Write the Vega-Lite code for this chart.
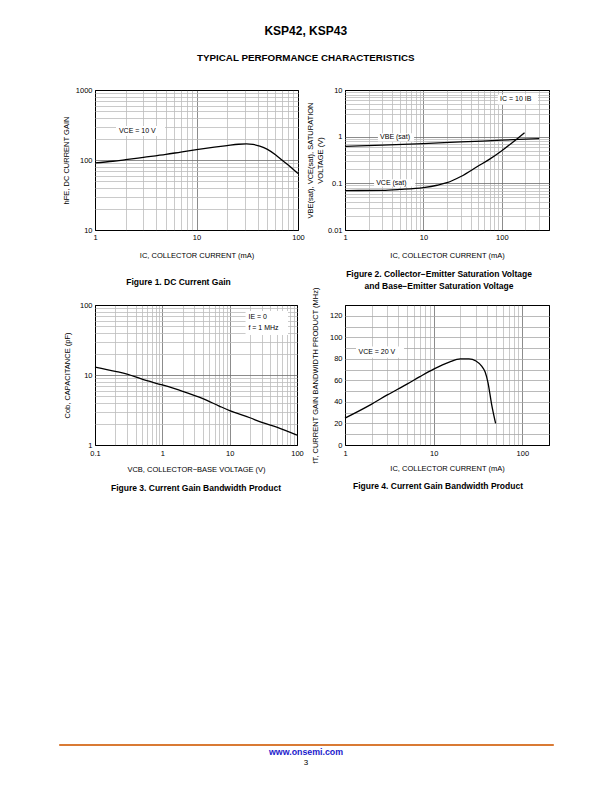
{
  "$schema": "https://vega.github.io/schema/vega-lite/v6.json",
  "background": "white",
  "padding": {"left": 58, "top": 24, "right": 5, "bottom": 5},
  "spacing": 250,
  "title": {
    "text": "KSP42, KSP43",
    "subtitle": "TYPICAL PERFORMANCE CHARACTERISTICS",
    "anchor": "middle",
    "frame": "bounds",
    "fontSize": 12,
    "fontWeight": "bold",
    "subtitleFontSize": 9.8,
    "subtitleFontWeight": "bold",
    "subtitleColor": "black",
    "subtitleFont": "Liberation Sans",
    "subtitlePadding": 15,
    "offset": 22
  },
  "datasets": {
    "hfe": [
      {"x": 1, "y": 91}, {"x": 1.5, "y": 96}, {"x": 2, "y": 101}, {"x": 3, "y": 109},
      {"x": 5, "y": 120}, {"x": 7, "y": 130}, {"x": 10, "y": 141}, {"x": 15, "y": 153},
      {"x": 20, "y": 161}, {"x": 26, "y": 168}, {"x": 31, "y": 170}, {"x": 36, "y": 167},
      {"x": 42, "y": 158}, {"x": 50, "y": 142}, {"x": 60, "y": 119}, {"x": 70, "y": 99},
      {"x": 85, "y": 79}, {"x": 100, "y": 64}
    ],
    "box1": [{"x": 1.61, "x2": 4.9, "y": 221, "y2": 306}],
    "lab1": [{"x": 1.72, "y": 258, "t": "VCE = 10 V"}],
    "sat": [
      {"s": "VBE", "x": 1, "y": 0.62}, {"s": "VBE", "x": 3, "y": 0.66}, {"s": "VBE", "x": 10, "y": 0.71},
      {"s": "VBE", "x": 30, "y": 0.77}, {"s": "VBE", "x": 100, "y": 0.84}, {"s": "VBE", "x": 300, "y": 0.91},
      {"s": "VCE", "x": 1, "y": 0.07}, {"s": "VCE", "x": 3, "y": 0.071}, {"s": "VCE", "x": 5, "y": 0.074},
      {"s": "VCE", "x": 10, "y": 0.081}, {"s": "VCE", "x": 15, "y": 0.091}, {"s": "VCE", "x": 20, "y": 0.103},
      {"s": "VCE", "x": 30, "y": 0.14}, {"s": "VCE", "x": 50, "y": 0.235}, {"s": "VCE", "x": 70, "y": 0.33},
      {"s": "VCE", "x": 100, "y": 0.5}, {"s": "VCE", "x": 150, "y": 0.85}, {"s": "VCE", "x": 195, "y": 1.22}
    ],
    "box2": [
      {"x": 2.63, "x2": 7.6, "y": 0.79, "y2": 1.18},
      {"x": 2.35, "x2": 7.9, "y": 0.086, "y2": 0.122},
      {"x": 89, "x2": 290, "y": 4.9, "y2": 8.05}
    ],
    "lab2": [
      {"x": 2.8, "y": 0.97, "t": "VBE (sat)"},
      {"x": 2.5, "y": 0.102, "t": "VCE (sat)"},
      {"x": 95, "y": 6.3, "t": "IC = 10 IB"}
    ],
    "cob": [
      {"x": 0.1, "y": 13}, {"x": 0.2, "y": 11.3}, {"x": 0.3, "y": 10.3}, {"x": 0.5, "y": 8.7},
      {"x": 1, "y": 7.2}, {"x": 2, "y": 5.85}, {"x": 4, "y": 4.6}, {"x": 7, "y": 3.6},
      {"x": 10, "y": 3.1}, {"x": 20, "y": 2.45}, {"x": 30, "y": 2.1}, {"x": 50, "y": 1.8},
      {"x": 100, "y": 1.38}
    ],
    "box3": [{"x": 17.2, "x2": 73.5, "y": 37.4, "y2": 82}],
    "lab3": [{"x": 19, "y": 67, "t": "IE = 0"}, {"x": 19, "y": 47, "t": "f = 1 MHz"}],
    "ft": [
      {"x": 1, "y": 25}, {"x": 2, "y": 38}, {"x": 3, "y": 46.5}, {"x": 5, "y": 56.5},
      {"x": 7, "y": 63.5}, {"x": 10, "y": 70.5}, {"x": 15, "y": 77}, {"x": 20, "y": 80},
      {"x": 25, "y": 80}, {"x": 30, "y": 78}, {"x": 35, "y": 73}, {"x": 38, "y": 68},
      {"x": 41, "y": 58}, {"x": 45, "y": 38}, {"x": 50, "y": 20}
    ],
    "box4": [{"x": 1.33, "x2": 4.64, "y": 81, "y2": 91.5}],
    "lab4": [{"x": 1.42, "y": 86, "t": "VCE = 20 V"}]
  },
  "vconcat": [
    {
      "bounds": "flush",
      "spacing": 0,
      "hconcat": [
        {"width": 36, "height": 1, "data": {"values": [{"a": 1}]}, "mark": {"type": "rule", "opacity": 0}, "encoding": {}, "view": {"stroke": null}},
        {
          "columns": 2,
          "bounds": "flush",
          "spacing": {"row": 75, "column": 47},
          "concat": [
            {
              "width": 203, "height": 140,
              "title": {"text": "Figure 1. DC Current Gain", "orient": "bottom", "anchor": "middle", "frame": "group", "dx": -18, "offset": 19},
              "encoding": {
                "x": {"field": "x", "type": "quantitative", "scale": {"type": "log", "domain": [1, 100], "nice": false},
                  "axis": {"title": "IC, COLLECTOR CURRENT (mA)", "values": [1,2,3,4,5,6,7,8,9,10,20,30,40,50,60,70,80,90,100], "format": "~g",
                    "labelExpr": "indexof([1,10,100], datum.value) >= 0 ? datum.label : ''",
                    "gridColor": {"condition": [{"test": "datum.value == 1 || datum.value == 100", "value": "black"}, {"test": "datum.value == 10", "value": "#6e6e6e"}], "value": "#bdbdbd"},
                    "labelPadding": 3, "titlePadding": 11}},
                "y": {"field": "y", "type": "quantitative", "scale": {"type": "log", "domain": [10, 1000], "nice": false},
                  "axis": {"title": "hFE, DC CURRENT GAIN", "values": [10,20,30,40,50,60,70,80,90,100,200,300,400,500,600,700,800,900,1000], "format": "~g",
                    "labelExpr": "indexof([10,100,1000], datum.value) >= 0 ? datum.label : ''",
                    "gridColor": {"condition": [{"test": "datum.value == 10 || datum.value == 1000", "value": "black"}, {"test": "datum.value == 100", "value": "#6e6e6e"}], "value": "#bdbdbd"},
                    "labelPadding": 3, "titlePadding": 5}}
              },
              "layer": [
                {"data": {"name": "box1"}, "mark": {"type": "rect", "fill": "white"}, "encoding": {"x2": {"field": "x2"}, "y2": {"field": "y2"}}},
                {"data": {"name": "hfe"}, "mark": {"type": "line", "color": "black", "strokeWidth": 1.3, "interpolate": "monotone"}},
                {"data": {"name": "lab1"}, "mark": {"type": "text", "align": "left", "baseline": "middle", "fontSize": 7}, "encoding": {"text": {"field": "t"}}}
              ]
            },
            {
              "width": 204, "height": 140,
              "title": {"text": ["Figure 2. Collector−Emitter Saturation Voltage", "and Base−Emitter Saturation Voltage"], "orient": "bottom", "anchor": "middle", "frame": "group", "dx": -8, "offset": 11, "lineHeight": 12},
              "encoding": {
                "x": {"field": "x", "type": "quantitative", "scale": {"type": "log", "domain": [1, 400], "nice": false},
                  "axis": {"title": "IC, COLLECTOR CURRENT (mA)", "values": [1,2,3,4,5,6,7,8,9,10,20,30,40,50,60,70,80,90,100,200,300,400], "format": "~g",
                    "labelExpr": "indexof([1,10,100], datum.value) >= 0 ? datum.label : ''",
                    "gridColor": {"condition": [{"test": "datum.value == 1 || datum.value == 400", "value": "black"}, {"test": "datum.value == 10 || datum.value == 100", "value": "#6e6e6e"}], "value": "#bdbdbd"},
                    "labelPadding": 3, "titlePadding": 11}},
                "y": {"field": "y", "type": "quantitative", "scale": {"type": "log", "domain": [0.01, 10], "nice": false},
                  "axis": {"title": ["VBE(sat), VCE(sat), SATURATION", "VOLTAGE (V)"], "values": [0.01,0.02,0.03,0.04,0.05,0.06,0.07,0.08,0.09,0.1,0.2,0.3,0.4,0.5,0.6,0.7,0.8,0.9,1,2,3,4,5,6,7,8,9,10], "format": "~g",
                    "labelExpr": "indexof([0.01,0.1,1,10], datum.value) >= 0 ? datum.label : ''",
                    "gridColor": {"condition": [{"test": "datum.value == 0.01 || datum.value == 10", "value": "black"}, {"test": "datum.value == 0.1 || datum.value == 1", "value": "#6e6e6e"}], "value": "#bdbdbd"},
                    "labelPadding": 3, "titlePadding": 3}}
              },
              "layer": [
                {"data": {"name": "box2"}, "mark": {"type": "rect", "fill": "white"}, "encoding": {"x2": {"field": "x2"}, "y2": {"field": "y2"}}},
                {"data": {"name": "sat"}, "mark": {"type": "line", "color": "black", "strokeWidth": 1.3, "interpolate": "monotone"}, "encoding": {"detail": {"field": "s"}}},
                {"data": {"name": "lab2"}, "mark": {"type": "text", "align": "left", "baseline": "middle", "fontSize": 7}, "encoding": {"text": {"field": "t"}}}
              ]
            },
            {
              "width": 202, "height": 140,
              "title": {"text": "Figure 3. Current Gain Bandwidth Product", "orient": "bottom", "anchor": "middle", "frame": "group", "dx": 0, "offset": 11},
              "encoding": {
                "x": {"field": "x", "type": "quantitative", "scale": {"type": "log", "domain": [0.1, 100], "nice": false},
                  "axis": {"title": "VCB, COLLECTOR−BASE VOLTAGE (V)", "values": [0.1,0.2,0.3,0.4,0.5,0.6,0.7,0.8,0.9,1,2,3,4,5,6,7,8,9,10,20,30,40,50,60,70,80,90,100], "format": "~g",
                    "labelExpr": "indexof([0.1,1,10,100], datum.value) >= 0 ? datum.label : ''",
                    "gridColor": {"condition": [{"test": "datum.value == 0.1 || datum.value == 100", "value": "black"}, {"test": "datum.value == 1 || datum.value == 10", "value": "#6e6e6e"}], "value": "#bdbdbd"},
                    "labelPadding": 4, "titlePadding": 9}},
                "y": {"field": "y", "type": "quantitative", "scale": {"type": "log", "domain": [1, 100], "nice": false},
                  "axis": {"title": "Cob, CAPACITANCE (pF)", "values": [1,2,3,4,5,6,7,8,9,10,20,30,40,50,60,70,80,90,100], "format": "~g",
                    "labelExpr": "indexof([1,10,100], datum.value) >= 0 ? datum.label : ''",
                    "gridColor": {"condition": [{"test": "datum.value == 1 || datum.value == 100", "value": "black"}, {"test": "datum.value == 10", "value": "#6e6e6e"}], "value": "#bdbdbd"},
                    "labelPadding": 3, "titlePadding": 8}}
              },
              "layer": [
                {"data": {"name": "box3"}, "mark": {"type": "rect", "fill": "white"}, "encoding": {"x2": {"field": "x2"}, "y2": {"field": "y2"}}},
                {"data": {"name": "cob"}, "mark": {"type": "line", "color": "black", "strokeWidth": 1.3, "interpolate": "monotone"}},
                {"data": {"name": "lab3"}, "mark": {"type": "text", "align": "left", "baseline": "middle", "fontSize": 7}, "encoding": {"text": {"field": "t"}}}
              ]
            },
            {
              "width": 204, "height": 140,
              "title": {"text": "Figure 4. Current Gain Bandwidth Product", "orient": "bottom", "anchor": "middle", "frame": "group", "dx": -9, "offset": 10},
              "encoding": {
                "x": {"field": "x", "type": "quantitative", "scale": {"type": "log", "domain": [1, 200], "nice": false},
                  "axis": {"title": "IC, COLLECTOR CURRENT (mA)", "values": [1,2,3,4,5,6,7,8,9,10,20,30,40,50,60,70,80,90,100,200], "format": "~g",
                    "labelExpr": "indexof([1,10,100], datum.value) >= 0 ? datum.label : ''",
                    "gridColor": {"condition": [{"test": "datum.value == 1 || datum.value == 200", "value": "black"}, {"test": "datum.value == 10 || datum.value == 100", "value": "#6e6e6e"}], "value": "#bdbdbd"},
                    "labelPadding": 4, "titlePadding": 8}},
                "y": {"field": "y", "type": "quantitative", "scale": {"domain": [0, 130], "nice": false, "zero": true},
                  "axis": {"title": "fT, CURRENT GAIN BANDWIDTH PRODUCT (MHz)", "values": [0,10,20,30,40,50,60,70,80,90,100,110,120,130],
                    "labelExpr": "datum.value % 20 == 0 && datum.value <= 120 ? datum.label : ''",
                    "gridColor": {"condition": {"test": "datum.value == 0 || datum.value == 130", "value": "black"}, "value": "#a8a8a8"},
                    "labelPadding": 3, "titlePadding": 10}}
              },
              "layer": [
                {"data": {"name": "box4"}, "mark": {"type": "rect", "fill": "white"}, "encoding": {"x2": {"field": "x2"}, "y2": {"field": "y2"}}},
                {"data": {"name": "ft"}, "mark": {"type": "line", "color": "black", "strokeWidth": 1.3, "interpolate": "monotone"}},
                {"data": {"name": "lab4"}, "mark": {"type": "text", "align": "left", "baseline": "middle", "fontSize": 7}, "encoding": {"text": {"field": "t"}}}
              ]
            }
          ]
        }
      ]
    },
    {
      "width": 494, "height": 1,
      "data": {"values": [{"a": 1}]},
      "mark": {"type": "rule", "opacity": 0},
      "encoding": {},
      "view": {"fill": "#D97A34", "stroke": "#D97A34", "strokeWidth": 1},
      "title": {"text": "www.onsemi.com", "subtitle": "3", "orient": "bottom", "anchor": "middle", "frame": "group", "offset": 3, "fontSize": 8.8, "fontWeight": "bold", "color": "#1a1acc", "subtitleColor": "black", "subtitleFontSize": 8, "subtitleFont": "Liberation Sans", "subtitlePadding": 2}
    }
  ],
  "config": {
    "font": "Liberation Sans",
    "view": {"stroke": "black", "strokeWidth": 1},
    "axis": {"domain": false, "ticks": false, "labelFontSize": 7.5, "titleFontSize": 7.5, "titleFontWeight": "normal", "labelColor": "black", "titleColor": "black", "labelFlush": false, "labelOverlap": false, "gridWidth": 0.8, "labelFont": "Liberation Sans", "titleFont": "Liberation Sans"},
    "title": {"fontSize": 8.5, "fontWeight": "bold", "color": "black", "font": "Liberation Sans"}
  }
}
